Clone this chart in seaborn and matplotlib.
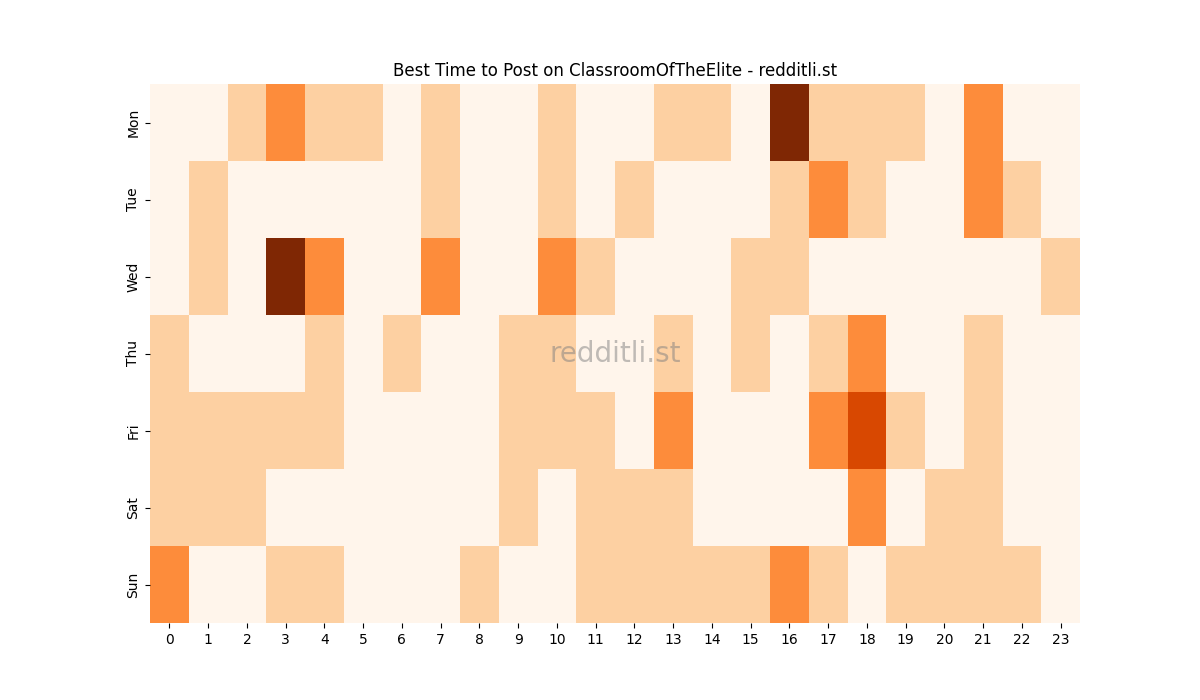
import numpy as np
import pandas as pd
import matplotlib
matplotlib.use("Agg")
import matplotlib.pyplot as plt
import seaborn as sns

days = ["Mon", "Tue", "Wed", "Thu", "Fri", "Sat", "Sun"]
hours = list(range(24))

mon = [0, 0, 1, 2, 1, 1, 0, 1, 0, 0, 1, 0, 0, 1, 1, 0, 4, 1, 1, 1, 0, 2, 0, 0]
tue = [0, 1, 0, 0, 0, 0, 0, 1, 0, 0, 1, 0, 1, 0, 0, 0, 1, 2, 1, 0, 0, 2, 1, 0]
wed = [0, 1, 0, 4, 2, 0, 0, 2, 0, 0, 2, 1, 0, 0, 0, 1, 1, 0, 0, 0, 0, 0, 0, 1]
thu = [1, 0, 0, 0, 1, 0, 1, 0, 0, 1, 1, 0, 0, 1, 0, 1, 0, 1, 2, 0, 0, 1, 0, 0]
fri = [1, 1, 1, 1, 1, 0, 0, 0, 0, 1, 1, 1, 0, 2, 0, 0, 0, 2, 3, 1, 0, 1, 0, 0]
sat = [1, 1, 1, 0, 0, 0, 0, 0, 0, 1, 0, 1, 1, 1, 0, 0, 0, 0, 2, 0, 1, 1, 0, 0]
sun = [2, 0, 0, 1, 1, 0, 0, 0, 1, 0, 0, 1, 1, 1, 1, 1, 2, 1, 0, 1, 1, 1, 1, 0]

df = pd.DataFrame([mon, tue, wed, thu, fri, sat, sun], index=days, columns=hours)

fig, ax = plt.subplots(figsize=(12, 7), dpi=100)
sns.heatmap(df, cmap="Oranges", vmin=0, vmax=4, cbar=False, ax=ax)
ax.set_title("Best Time to Post on ClassroomOfTheElite - redditli.st")
ax.set_xlabel("")
ax.set_ylabel("")
ax.tick_params(axis="x", rotation=0)
ax.text(0.5, 0.5, "redditli.st", transform=ax.transAxes, ha="center", va="center",
        fontsize=20, color="gray", alpha=0.5)
fig.savefig("out.png", dpi=100)
